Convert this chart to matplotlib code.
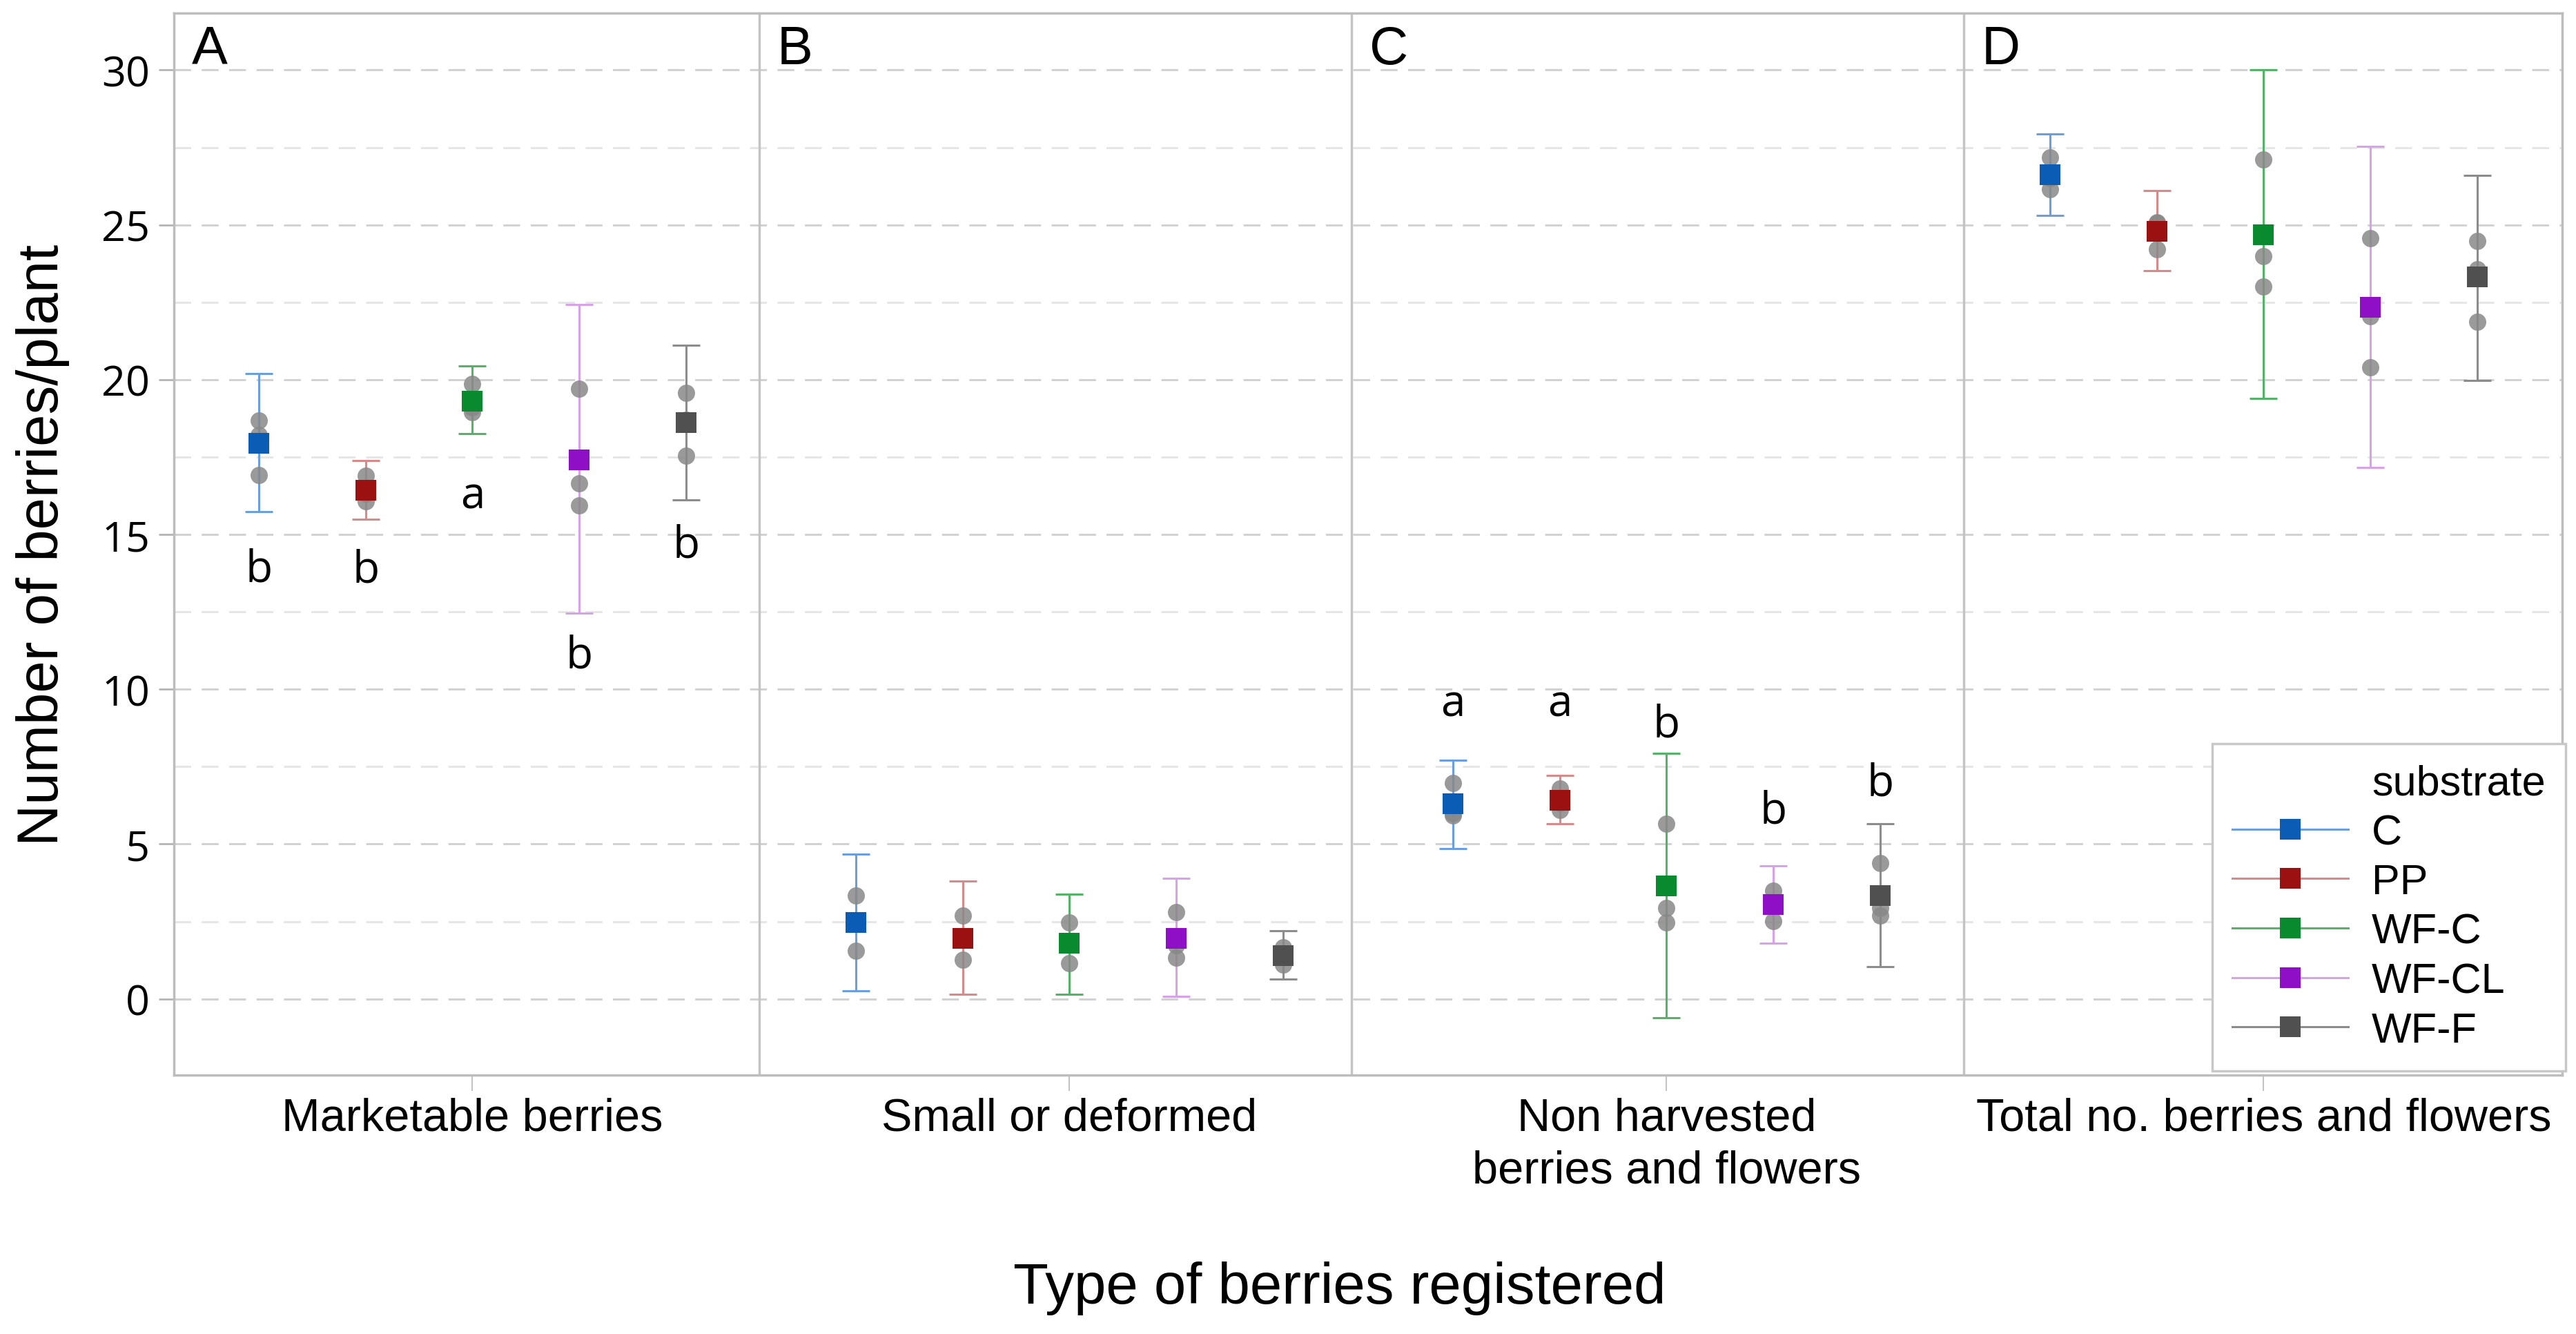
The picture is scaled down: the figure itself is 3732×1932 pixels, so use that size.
import matplotlib
matplotlib.use("Agg")
import matplotlib.pyplot as plt
from matplotlib.lines import Line2D
from matplotlib.ticker import MultipleLocator
import numpy as np

plt.rcParams['font.family'] = ['Liberation Sans', 'DejaVu Sans']

categories = ["Marketable berries", "Small or deformed",
              "Non harvested\nberries and flowers", "Total no. berries and flowers"]
panel_letters = ["A", "B", "C", "D"]
substrates = ["C", "PP", "WF-C", "WF-CL", "WF-F"]

# mean per category (A, B, C, D) for each substrate
mean_C = [17.94, 2.47, 6.30, 26.61]
mean_PP = [16.43, 1.96, 6.41, 24.79]
mean_WFC = [19.30, 1.79, 3.66, 24.67]
mean_WFCL = [17.41, 1.96, 3.04, 22.33]
mean_WFF = [18.61, 1.40, 3.34, 23.31]

# error bar ends
low_C = [15.74, 0.26, 4.86, 25.31]
high_C = [20.19, 4.68, 7.71, 27.93]
low_PP = [15.50, 0.15, 5.66, 23.51]
high_PP = [17.39, 3.81, 7.21, 26.10]
low_WFC = [18.25, 0.15, -0.60, 19.39]
high_WFC = [20.44, 3.38, 7.94, 30.02]
low_WFCL = [12.46, 0.08, 1.79, 17.16]
high_WFCL = [22.42, 3.89, 4.29, 27.54]
low_WFF = [16.12, 0.65, 1.04, 19.98]
high_WFF = [21.12, 2.20, 5.66, 26.59]

# replicates (3 per category)
reps_C = [[18.68, 16.93, 18.21], [3.33, 1.56, 2.52], [6.98, 6.00, 5.92], [27.18, 26.15, 26.50]]
reps_PP = [[16.90, 16.07, 16.32], [2.70, 1.27, 1.91], [6.80, 6.11, 6.32], [25.06, 24.22, 25.09]]
reps_WFC = [[19.87, 18.94, 19.10], [2.47, 1.15, 1.75], [5.66, 2.93, 2.47], [27.11, 23.99, 23.01]]
reps_WFCL = [[19.71, 16.65, 15.93], [2.81, 1.33, 1.74], [3.49, 2.51, 3.12], [24.56, 20.39, 22.04]]
reps_WFF = [[19.57, 17.55, 18.71], [1.67, 1.10, 1.43], [4.39, 2.69, 2.94], [24.49, 21.87, 23.57]]

# significance letters, panels A and C
letters_A = ["b", "b", "a", "b", "b"]
letters_A_y = [13.5, 13.47, 15.86, 10.70, 14.28]
letters_C = ["a", "a", "b", "b", "b"]
letters_C_y = [9.15, 9.15, 8.48, 5.70, 6.58]

means = [mean_C, mean_PP, mean_WFC, mean_WFCL, mean_WFF]
lows = [low_C, low_PP, low_WFC, low_WFCL, low_WFF]
highs = [high_C, high_PP, high_WFC, high_WFCL, high_WFF]
reps = [reps_C, reps_PP, reps_WFC, reps_WFCL, reps_WFF]

marker_colors = ["#0b5cb5", "#9b1010", "#0a8a2e", "#8f0fc7", "#505050"]
bar_colors = ["#6a9edf", "#d88a8a", "#55b368", "#d8a2ea", "#8c8c8c"]

step = 0.179
dividers = [0.48, 1.472, 2.498]
panel_left = [-0.5] + dividers

fig = plt.figure(figsize=(37.32, 19.33), dpi=100)
ax = fig.add_axes([0.0675, 0.194, 0.9271, 0.7957])
ax.set_xlim(-0.5, 3.5)
ax.set_ylim(-2.46, 31.84)

xc = np.arange(len(categories))
for i, s in enumerate(substrates):
    x = xc + (i - 2) * step
    m = np.array(means[i])
    lo = np.array(lows[i])
    hi = np.array(highs[i])
    ax.errorbar(x, m, yerr=[m - lo, hi - m], fmt='none', ecolor=bar_colors[i],
                elinewidth=2.2, capsize=14.5, capthick=2.2, zorder=3)
    for j in range(len(categories)):
        ax.plot([x[j]] * len(reps[i][j]), reps[i][j], 'o', color='#888888', alpha=0.85,
                markersize=18, markeredgewidth=0, zorder=4)
    ax.plot(x, m, 's', color=marker_colors[i], markersize=22, markeredgewidth=0, zorder=5)

for i in range(5):
    ax.text(0 + (i - 2) * step, letters_A_y[i], letters_A[i], ha='center', va='baseline',
            fontsize=46, family='Open Sans', zorder=6)
    ax.text(2 + (i - 2) * step, letters_C_y[i], letters_C[i], ha='center', va='baseline',
            fontsize=46, family='Open Sans', zorder=6)

for d in dividers:
    ax.axvline(d, color='#c4c4c4', lw=2.5, zorder=2)

for k, lt in enumerate(panel_letters):
    ax.text(panel_left[k] + 0.03, 30.22, lt, ha='left', va='baseline', fontsize=56, zorder=6)

# grid
ax.yaxis.set_major_locator(MultipleLocator(5))
ax.yaxis.set_minor_locator(MultipleLocator(2.5))
ax.grid(axis='y', which='major', color='#d2d2d2', lw=2.2, linestyle=(0, (8, 5)), zorder=0)
ax.grid(axis='y', which='minor', color='#e6e6e6', lw=2.2, linestyle=(0, (8, 5)), zorder=0)
ax.set_axisbelow(True)

ax.set_xticks(xc)
ax.set_xticklabels(categories, fontsize=48)
ax.get_xticklabels()[2].set_linespacing(1.3)
ax.tick_params(axis='x', length=16.5, width=1.5, color='#c4c4c4', pad=6)
ax.tick_params(axis='y', which='major', length=16, width=2, color='#b4b4b4', pad=9, labelsize=44)
ax.tick_params(axis='y', which='minor', length=0)
for lbl in ax.get_yticklabels():
    lbl.set_fontfamily('Open Sans')

for sp in ax.spines.values():
    sp.set_color('#bdbdbd')
    sp.set_linewidth(2.5)

fig.text(0.520, 0.0233, "Type of berries registered", ha='center', va='baseline', fontsize=60)
fig.text(0.0165, 0.194 + 0.7957 / 2, "Number of berries/plant", rotation=90,
         ha='center', va='center', fontsize=60)

handles = [Line2D([], [], linestyle='none', marker=None)]
labels = ["substrate"]
for i, s in enumerate(substrates):
    handles.append(Line2D([0], [0], color=bar_colors[i], lw=2.2, marker='s', markersize=22,
                          markerfacecolor=marker_colors[i], markeredgewidth=0))
    labels.append(s)
leg = ax.legend(handles, labels, loc='lower right', bbox_to_anchor=(0.996, 0.197),
                bbox_transform=fig.transFigure, borderaxespad=0, fontsize=44,
                handlelength=2.75, handletextpad=0.56, borderpad=0.48, labelspacing=0.24,
                numpoints=1, fancybox=False, framealpha=1)
leg.get_frame().set_edgecolor('#c8c8c8')
leg.get_frame().set_linewidth(2.5)
leg.set_zorder(10)

fig.savefig("out.png", dpi=100)
